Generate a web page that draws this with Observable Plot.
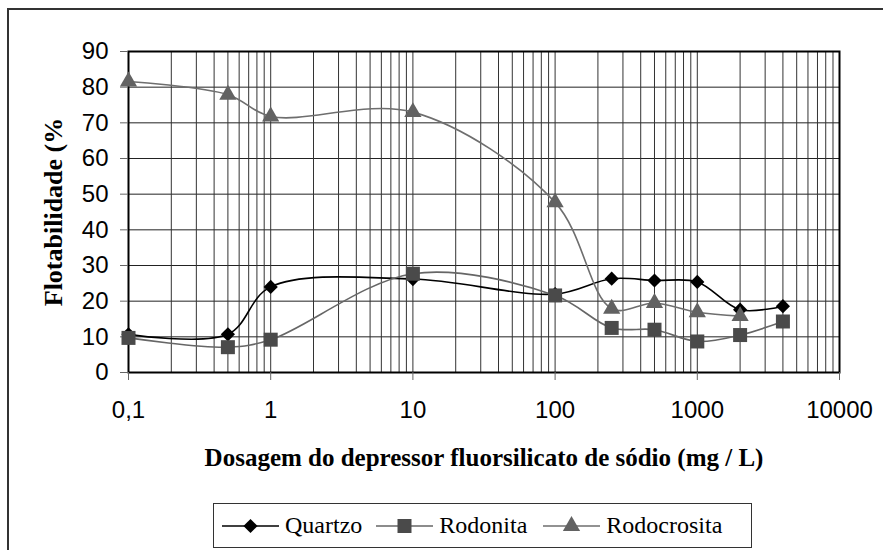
<!DOCTYPE html>
<html>
<head>
<meta charset="utf-8">
<script src="https://cdn.jsdelivr.net/npm/d3@7"></script>
<script src="https://cdn.jsdelivr.net/npm/@observablehq/plot@0.6"></script>
<style>
  html, body { margin: 0; padding: 0; background: #fff; overflow: hidden; }
  #wrap { position: relative; width: 883px; height: 550px; overflow: hidden; }
  #outer { position: absolute; left: 7px; top: 8px; width: 900px; height: 600px; border: 2px solid #333; box-sizing: border-box; }
  #chart { position: absolute; left: 0; top: 0; }
  #legend { position: absolute; left: 213px; top: 503px; width: 539px; height: 45px; border: 1.5px solid #333; box-sizing: border-box;
            display: flex; align-items: center; font-family: "Liberation Serif", "Times New Roman", serif; font-size: 24px; color: #000; background: #fff; }
  .item { display: flex; align-items: center; font-family: "Liberation Serif", serif; }
  .item svg { margin-right: 6px; }
</style>
</head>
<body>
<div id="wrap">
  <div id="outer"></div>
  <div id="chart"></div>
  <div id="legend"></div>
</div>
<script>
const doses = [0.1, 0.5, 1, 10, 100, 250, 500, 1000, 2000, 4000];
const quartzo = [10.7, 10.7, 24, 26.2, 22, 26.3, 25.8, 25.4, 17.6, 18.6];
const rodonita = [9.7, 7.1, 9.2, 27.7, 21.6, 12.5, 12, 8.7, 10.5, 14.3];
const rodocrosita = [81.6, 77.9, 71.8, 73, 47.7, 17.9, 19.5, 16.9, 15.8];
const seriesNames = ["Quartzo", "Rodonita", "Rodocrosita"];
const yTicks = [0, 10, 20, 30, 40, 50, 60, 70, 80, 90];
const xTickValues = [0.1, 1, 10, 100, 1000, 10000];
const xTickLabels = ["0,1", "1", "10", "100", "1000", "10000"];
const yLabel = "Flotabilidade (%";
const xLabel = "Dosagem do depressor fluorsilicato de sódio (mg / L)";

const styles = {
  Quartzo: {line: "#000", fill: "#000", symbol: "diamond2", r: 6.4},
  Rodonita: {line: "#666", fill: "#4a4a4a", symbol: "square", r: 7.9},
  Rodocrosita: {line: "#6e6e6e", fill: "#626262", symbol: "triangle", r: 6.4}
};

const values = [quartzo, rodonita, rodocrosita];
const data = [];
seriesNames.forEach((s, k) => values[k].forEach((v, i) => data.push({series: s, x: doses[i], y: v})));

const xGrid = d3.scaleLog().domain([0.1, 10000]).ticks(60);
const sansFont = "Liberation Sans, Arial, sans-serif";
const serifFont = "Liberation Serif, Times New Roman, serif";

const marks = [
  Plot.gridY(yTicks, {stroke: "#222", strokeOpacity: 1, strokeWidth: 1}),
  Plot.gridX(xGrid, {stroke: "#333", strokeOpacity: 1, strokeWidth: 1}),
  Plot.frame({stroke: "#000", strokeWidth: 2}),
  Plot.axisY(yTicks, {tickSize: 8, tickPadding: 12, fontSize: 24, fontFamily: sansFont, label: null, stroke: "#666", fill: "#000"}),
  Plot.axisX(xTickValues, {tickSize: 8, tickPadding: 20, fontSize: 24, fontFamily: sansFont, label: null, stroke: "#666", fill: "#000",
    tickFormat: d => xTickLabels[xTickValues.indexOf(d)]})
];
seriesNames.forEach(s => {
  const st = styles[s];
  const d = data.filter(p => p.series === s);
  marks.push(Plot.line(d, {x: "x", y: "y", stroke: st.line, strokeWidth: 1.6, curve: "catmull-rom"}));
  marks.push(Plot.dot(d, {x: "x", y: "y", symbol: () => st.symbol, r: st.r, fill: st.fill, stroke: "none"}));
});
marks.push(Plot.text([yLabel], {frameAnchor: "left", dx: -75, rotate: -90, text: d => d, fontSize: 26, fontWeight: "bold",
  textAnchor: "middle", lineAnchor: "middle", fontFamily: serifFont, fill: "#000"}));
marks.push(Plot.text([xLabel], {frameAnchor: "bottom", dy: 85, text: d => d, fontSize: 25, fontWeight: "bold",
  textAnchor: "middle", lineAnchor: "middle", fontFamily: serifFont, fill: "#000"}));

const chart = Plot.plot({
  width: 883, height: 480,
  marginLeft: 128, marginRight: 44, marginTop: 51, marginBottom: 108,
  x: {type: "log", domain: [0.1, 10000]},
  y: {domain: [0, 90]},
  symbol: {type: "identity"},
  style: {background: "transparent", overflow: "visible"},
  marks
});
document.getElementById("chart").appendChild(chart);

// legend
const legend = document.getElementById("legend");
const symbolPaths = {
  diamond2: d3.symbol(d3.symbolDiamond2, Math.PI * 6.4 * 6.4)(),
  square: d3.symbol(d3.symbolSquare, Math.PI * 7.9 * 7.9)(),
  triangle: d3.symbol(d3.symbolTriangle, Math.PI * 6.4 * 6.4)()
};
const starts = [8, 14, 16];
seriesNames.forEach((s, k) => {
  const st = styles[s];
  const item = document.createElement("div");
  item.className = "item";
  item.style.marginLeft = starts[k] + "px";
  item.innerHTML = `<svg width="57" height="24" viewBox="0 0 57 24"><line x1="0" y1="12" x2="57" y2="12" stroke="${st.line}" stroke-width="1.6"/>` +
    `<path d="${symbolPaths[st.symbol]}" transform="translate(28.5,12)" fill="${st.fill}"/></svg><span>${s}</span>`;
  legend.appendChild(item);
});
</script>
</body>
</html>
